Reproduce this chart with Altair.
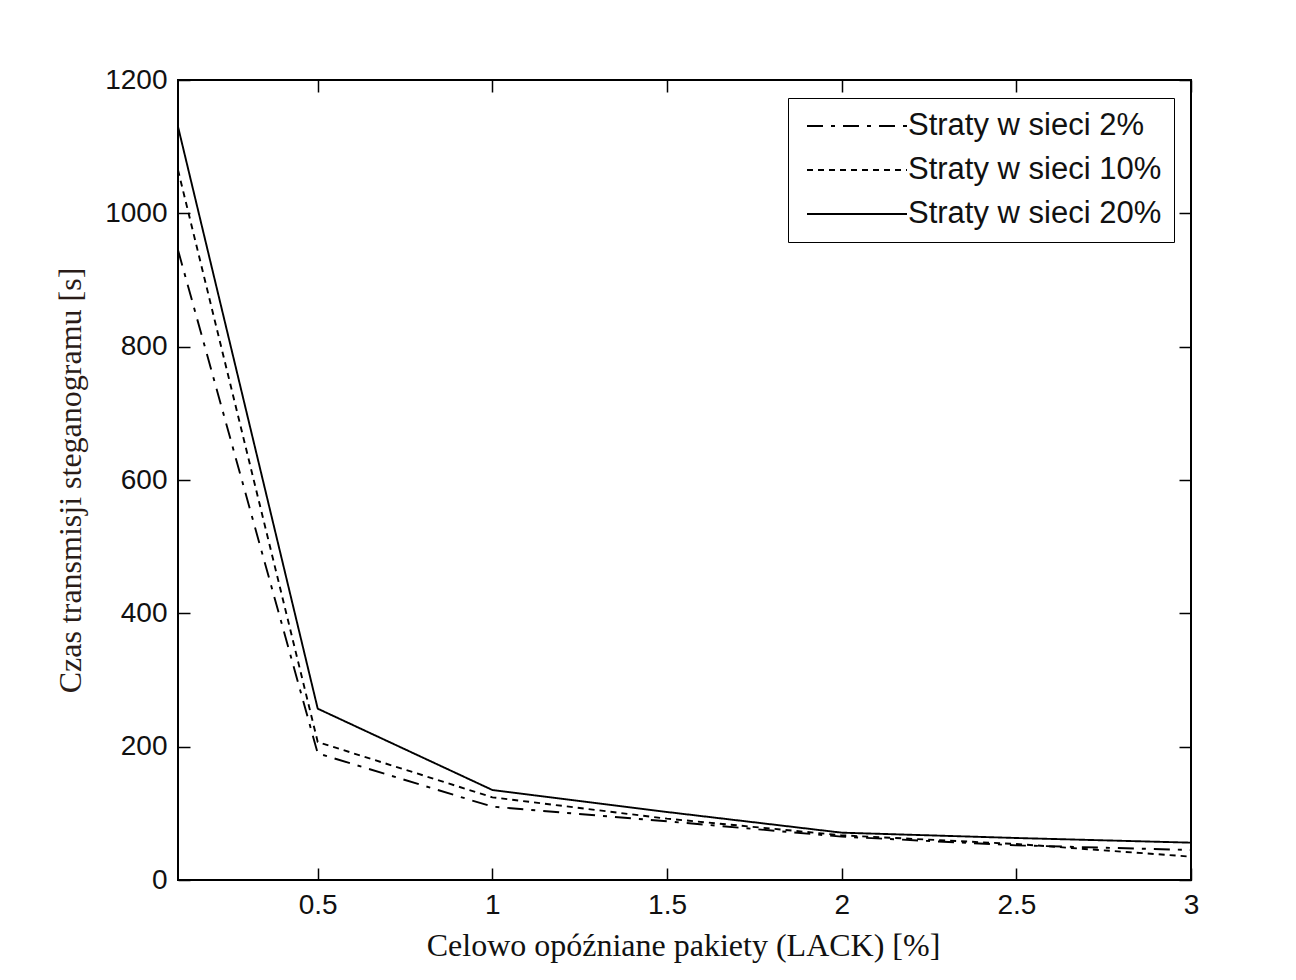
import altair as alt
import pandas as pd

# ---- data ----
lack = [0.1, 0.5, 1.0, 1.5, 2.0, 2.5, 3.0]
loss2 = [945, 190, 110, 88, 65, 52, 45]
loss10 = [1065, 207, 124, 92, 67, 54, 35]
loss20 = [1130, 257, 135, 102, 71, 63, 56]
series = ["Straty w sieci 2%", "Straty w sieci 10%", "Straty w sieci 20%"]
x_ticks = [0.5, 1, 1.5, 2, 2.5, 3]
y_ticks = [0, 200, 400, 600, 800, 1000, 1200]

rows = []
for name, vals in zip(series, [loss2, loss10, loss20]):
    for x, y in zip(lack, vals):
        rows.append({"lack": x, "czas": y, "seria": name})
df = pd.DataFrame(rows)

tick_font = "Liberation Sans"
title_font = "Liberation Serif"
txt = "#111111"

xscale = alt.Scale(domain=[0.1, 3], nice=False, zero=False)
yscale = alt.Scale(domain=[0, 1200], nice=False)

x_bottom = alt.Axis(
    orient="bottom", values=x_ticks, format="~g", offset=-12, tickSize=12,
    tickWidth=1.5, tickColor="black", domain=False, grid=False,
    labelFont=tick_font, labelFontSize=28, labelColor=txt, labelPadding=11,
    labelFlush=False, labelOverlap=False,
    title="Celowo opóźniane pakiety (LACK) [%]", titleFont=title_font,
    titleFontSize=32, titleFontWeight="normal", titleColor=txt,
    titleX=505, titleY=77, titleAlign="center", titleBaseline="middle",
)
y_left = alt.Axis(
    orient="left", values=y_ticks, format="d", offset=-12, tickSize=12,
    tickWidth=1.5, tickColor="black", domain=False, grid=False,
    labelFont=tick_font, labelFontSize=28, labelColor=txt, labelPadding=11,
    labelFlush=False, labelOverlap=False, labelBaseline="middle",
    title="Czas transmisji steganogramu [s]", titleFont=title_font,
    titleFontSize=32, titleFontWeight="normal", titleColor="#2a1c18",
    titleX=-120, titleY=400, titleAlign="center", titleBaseline="middle",
    titleAngle=270,
)
x_top = alt.Axis(
    orient="top", values=x_ticks, offset=-12, tickSize=12, tickWidth=1.5,
    tickColor="black", domain=False, grid=False, labels=False, title=None,
)
y_right = alt.Axis(
    orient="right", values=y_ticks, offset=-12, tickSize=12, tickWidth=1.5,
    tickColor="black", domain=False, grid=False, labels=False, title=None,
)

legend = alt.Legend(
    title=None, orient="none", legendX=610, legendY=18,
    symbolType="stroke", symbolSize=10000, symbolStrokeWidth=2,
    symbolStrokeColor="black", labelFont=tick_font, labelFontSize=31,
    labelColor=txt, labelLimit=0, strokeColor="black", fillColor="white",
    padding=12, clipHeight=32, rowPadding=12, symbolOffset=6, labelOffset=0,
)

lines = alt.Chart(df).mark_line(color="black", strokeWidth=1.9).encode(
    x=alt.X("lack:Q", scale=xscale, axis=x_bottom),
    y=alt.Y("czas:Q", scale=yscale, axis=y_left),
    strokeDash=alt.StrokeDash(
        "seria:N",
        scale=alt.Scale(domain=series, range=[[16, 8, 4, 8], [6, 5], [1, 0]]),
        sort=series,
        legend=legend,
    ),
    detail="seria:N",
)

frame_ticks = alt.Chart(df).mark_line(strokeOpacity=0).encode(
    x=alt.X("lack:Q", scale=xscale, axis=x_top),
    y=alt.Y("czas:Q", scale=yscale, axis=y_right),
    detail="seria:N",
)

chart = (
    alt.layer(lines, frame_ticks)
    .resolve_axis(x="independent", y="independent")
    .properties(
        width=1013, height=800,
        autosize=alt.AutoSizeParams(type="none"),
        padding={"left": 170, "top": 72, "right": 90, "bottom": 90},
        background="white",
    )
    .configure_view(stroke="black", strokeWidth=2)
)

chart.save("out.html", embed_options={"renderer": "svg", "actions": False})
